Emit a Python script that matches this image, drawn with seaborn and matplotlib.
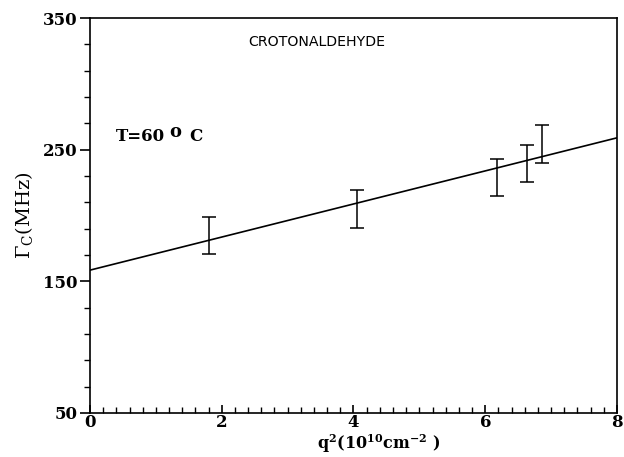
import matplotlib
matplotlib.use("Agg")
import matplotlib.pyplot as plt
import numpy as np
import pandas as pd
import seaborn as sns
from matplotlib.ticker import MultipleLocator

# ---- data ----------------------------------------------------------
q2 = [1.81, 4.05, 6.18, 6.63, 6.86]
gamma = [184.6, 204.8, 228.8, 239.3, 254.4]
gamma_err = [14.1, 14.5, 14.0, 14.2, 14.2]

fit_x = [0.0, 8.0]
fit_y = [158.5, 259.0]

sns.set_theme(style="ticks")
plt.rcParams["font.family"] = ["DejaVu Serif"]
plt.rcParams["mathtext.fontset"] = "dejavuserif"
for k in ["text.color", "axes.labelcolor", "xtick.color", "ytick.color", "axes.edgecolor"]:
    plt.rcParams[k] = "black"

fig = plt.figure(figsize=(6.24, 4.57), dpi=100)
ax = fig.add_axes([0.1442, 0.0963, 0.8446, 0.8643])

fit = pd.DataFrame({"q2": fit_x, "gamma": fit_y})
sns.lineplot(data=fit, x="q2", y="gamma", color="black", lw=1.2, ax=ax)
ax.errorbar(q2, gamma, yerr=gamma_err, fmt="none", ecolor="black",
            elinewidth=1.1, capsize=5, capthick=1.1)

ax.set_xlim(0, 8)
ax.set_ylim(50, 350)
ax.xaxis.set_major_locator(MultipleLocator(2))
ax.xaxis.set_minor_locator(MultipleLocator(0.2))
ax.yaxis.set_major_locator(MultipleLocator(100, offset=50))
ax.yaxis.set_minor_locator(MultipleLocator(20, offset=10))

ax.tick_params(axis="x", which="major", direction="in", length=6, width=1.2,
               labelsize=12, pad=1)
ax.tick_params(axis="x", which="minor", direction="in", length=4, width=1)
ax.tick_params(axis="y", which="major", direction="out", length=7, width=1.2,
               labelsize=12, pad=2)
ax.tick_params(axis="y", which="minor", direction="out", length=4, width=1)
for lab in ax.get_xticklabels() + ax.get_yticklabels():
    lab.set_fontweight("bold")

for s in ax.spines.values():
    s.set_linewidth(1.2)

ax.set_xlabel(r"$\mathbf{q^{2}(10^{10}cm^{-2}\ )}$", fontsize=11.5)
ax.xaxis.set_label_coords(0.548, -0.048)
ax.set_ylabel(r"$\Gamma_{\rm C}$(MHz)", fontsize=14, labelpad=6)

ax.text(0.300, 0.94, "CROTONALDEHYDE", transform=ax.transAxes,
        family="DejaVu Sans", fontsize=10.2, ha="left", va="center")
ax.text(0.049, 0.701, "T=60", transform=ax.transAxes,
        fontsize=12, fontweight="bold", ha="left", va="center")
ax.text(0.150, 0.712, "o", transform=ax.transAxes,
        fontsize=13, fontweight="bold", ha="left", va="center")
ax.text(0.188, 0.701, "C", transform=ax.transAxes,
        fontsize=12, fontweight="bold", ha="left", va="center")

fig.savefig("out.png", dpi=100)
